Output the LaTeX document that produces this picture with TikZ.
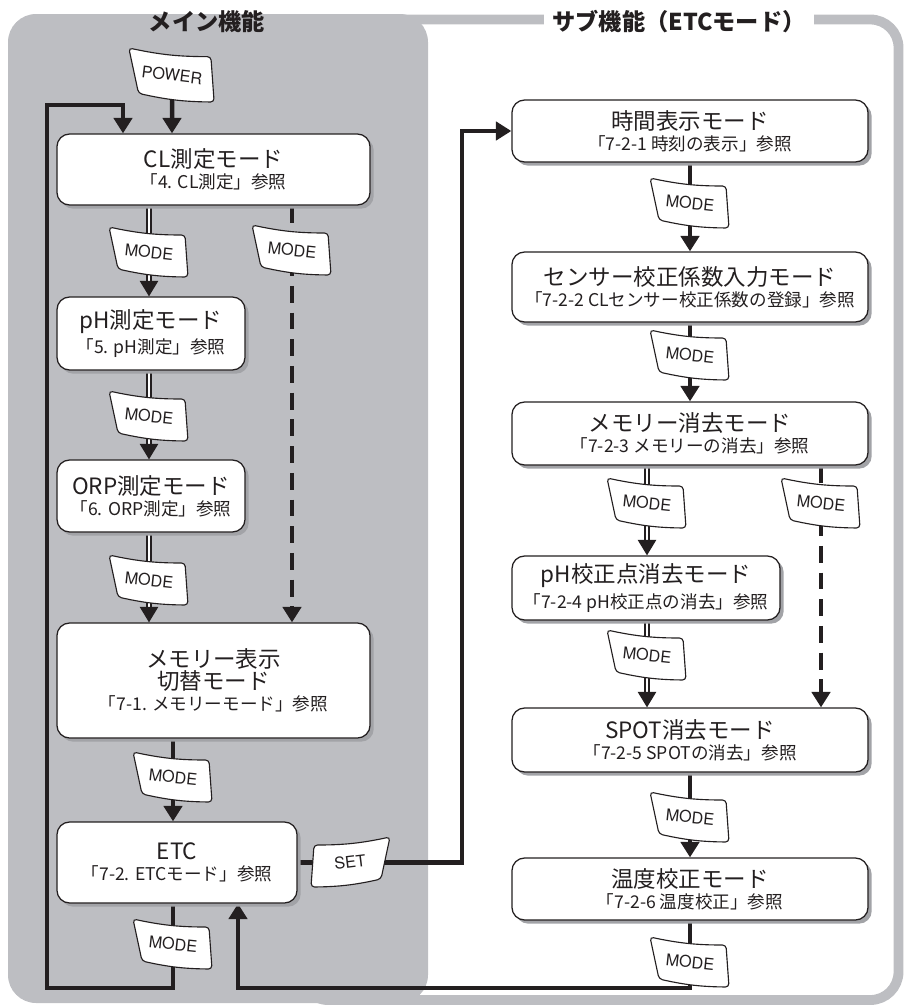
\documentclass[tikz,border=0pt]{standalone}
\usepackage{fontspec}
\setmainfont{Noto Sans CJK JP}
\newfontfamily\keyfont{TeX Gyre Heros}
\usepackage{xcolor}
\usepackage{tikz}
\usetikzlibrary{arrows.meta,shadows,calc}
\definecolor{PanelGray}{HTML}{BDBEC2}
\definecolor{FrameGray}{HTML}{BDBEC2}
\definecolor{ShadowGray}{HTML}{A2A3A7}
\definecolor{InkBlack}{HTML}{231F20}
\pgfdeclarelayer{panel}
\pgfdeclarelayer{wire}
\pgfsetlayers{panel,wire,main}
\newcommand\modename[1]{{\fontsize{16pt}{20pt}\selectfont #1}}
\newcommand\modenote[1]{{\fontsize{12.5pt}{15pt}\selectfont #1}}
% key outline + label: [outline opts] name, centre, angle, label
\newcommand\keycap[5][]{%
  \begin{scope}[shift={(#3)},#1]
    \filldraw[keyline] (-40,-25) to[bend right=6] (36,-17) -- (39,25)
      to[bend left=6] (-31,17) -- cycle;
  \end{scope}
  \node[keytext,rotate=#4] (#2) at (#3) {#5};}

\begin{document}
\begin{tikzpicture}[x=0.025cm, y=-0.025cm,
    every node/.style={text=InkBlack},
    modebox/.style={draw=InkBlack, line width=0.9pt, fill=white,
      rounded corners=9pt, align=center, inner sep=2pt,
      drop shadow={shadow xshift=2.6pt, shadow yshift=-2.6pt,
        fill=ShadowGray, opacity=1}},
    title/.style={font=\bfseries\fontsize{16.5pt}{18pt}\selectfont},
    keytext/.style={font=\keyfont\fontsize{11.5pt}{12pt}\selectfont, inner sep=1pt},
    keyline/.style={draw=InkBlack, fill=white, line width=0.8pt, rounded corners=2.5pt},
    conn/.style={draw=InkBlack, line width=3.2pt, -{Triangle[width=13pt,length=11pt]}},
    dashline/.style={conn, dash pattern=on 12pt off 7pt},
    dbl/.style={draw=InkBlack, line width=1.2pt, double=white, double distance=1.8pt,
      -{Triangle[width=13pt,length=11pt]}}]
  \useasboundingbox (0,0) rectangle (903,1006);

  % panels
  \begin{pgfonlayer}{panel}
    \draw[FrameGray, line width=7pt, rounded corners=20pt] (300,19.5) rectangle (898.5,1000);
    \fill[PanelGray, rounded corners=20pt] (8,14) rectangle (428,1003);
  \end{pgfonlayer}
  \node[title, fill=white, inner xsep=6pt, inner ysep=1pt] (subtitle) at (679,22) {サブ機能（ETCモード）};
  \node[title] (maintitle) at (207,22) {メイン機能};

  % main modes
  \node[modebox, minimum width=7.825cm, minimum height=1.775cm] (cl) at (213.5,169.5)
    {\modename{CL測定モード}\\[3pt]\modenote{「4. CL測定」参照}};
  \node[modebox, minimum width=4.7cm, minimum height=1.825cm] (ph) at (151,333.5)
    {\modename{pH測定モード}\\[3pt]\modenote{「5. pH測定」参照}};
  \node[modebox, minimum width=4.7cm, minimum height=1.8cm] (orp) at (151,496)
    {\modename{ORP測定モード}\\[3pt]\modenote{「6. ORP測定」参照}};
  \node[modebox, minimum width=7.825cm, minimum height=2.875cm] (memview) at (213.5,680.5)
    {\modename{メモリー表示}\\\modename{切替モード}\\[3pt]\modenote{「7-1. メモリーモード」参照}};
  \node[modebox, minimum width=6cm, minimum height=2.025cm] (etc) at (177,862.5)
    {\modename{ETC}\\[3pt]\modenote{「7-2. ETCモード」参照}};

  % sub modes
  \node[modebox, minimum width=8.9cm, minimum height=1.55cm] (clock) at (690,131)
    {\modename{時間表示モード}\\[3pt]\modenote{「7-2-1 時刻の表示」参照}};
  \node[modebox, minimum width=8.9cm, minimum height=1.75cm] (sensor) at (690,287)
    {\modename{センサー校正係数入力モード}\\[3pt]\modenote{「7-2-2 CLセンサー校正係数の登録」参照}};
  \node[modebox, minimum width=8.9cm, minimum height=1.575cm] (memclear) at (690,433.5)
    {\modename{メモリー消去モード}\\[3pt]\modenote{「7-2-3 メモリーの消去」参照}};
  \node[modebox, minimum width=6.7cm, minimum height=1.6cm] (phclear) at (646,588)
    {\modename{pH校正点消去モード}\\[3pt]\modenote{「7-2-4 pH校正点の消去」参照}};
  \node[modebox, minimum width=8.9cm, minimum height=1.6cm] (spot) at (690,740)
    {\modename{SPOT消去モード}\\[3pt]\modenote{「7-2-5 SPOTの消去」参照}};
  \node[modebox, minimum width=8.9cm, minimum height=1.55cm] (temp) at (690,889)
    {\modename{温度校正モード}\\[3pt]\modenote{「7-2-6 温度校正」参照}};

  % keys
  \keycap[scale=1.08]{kpw}{172,75}{-7}{POWER}
  \keycap{km1}{149,252}{-6}{MODE}
  \keycap{km2}{292,250}{-6}{MODE}
  \keycap{km3}{149,416}{-6}{MODE}
  \keycap{km4}{149,580}{-6}{MODE}
  \keycap{km5}{173,777}{-6}{MODE}
  \keycap{km6}{173,944}{-6}{MODE}
  \keycap[xscale=-1]{kset}{350,862}{7}{SET}
  \keycap{km7}{690,203}{-6}{MODE}
  \keycap{km8}{690,355}{-6}{MODE}
  \keycap{km9}{647,503}{-6}{MODE}
  \keycap{km10}{821,503}{-6}{MODE}
  \keycap{km11}{647,655}{-6}{MODE}
  \keycap{km12}{690,817}{-6}{MODE}
  \keycap{km13}{690,962}{-6}{MODE}

  \coordinate (loopbl) at (47,988);
  \coordinate (looptl) at (47,105);
  \coordinate (loopin) at (123,105);
  \coordinate (riser) at (462,500);
  \coordinate (retin) at (238,988);

  % connectors
  \begin{pgfonlayer}{wire}
    \draw[conn] (kpw) -- (kpw |- cl.north);
    \draw[conn] (km6 |- etc.south) -- (km6 |- loopbl) -- (loopbl) -- (looptl)
      -- (loopin) -- (loopin |- cl.north);
    \draw[dbl] (km1 |- cl.south) -- (km1 |- ph.north);
    \draw[dashline] (km2 |- cl.south) -- (km2 |- memview.north);
    \draw[dbl] (km3 |- ph.south) -- (km3 |- orp.north);
    \draw[dbl] (km4 |- orp.south) -- (km4 |- memview.north);
    \draw[conn] (km5 |- memview.south) -- (km5 |- etc.north);
    \draw[conn] (etc.east) -- (etc.east -| riser) |- (clock.west);
    \draw[conn] (clock) -- (sensor);
    \draw[conn] (sensor) -- (memclear);
    \draw[dbl] (km9 |- memclear.south) -- (km9 |- phclear.north);
    \draw[dashline] (km10 |- memclear.south) -- (km10 |- spot.north);
    \draw[dbl] (km11 |- phclear.south) -- (km11 |- spot.north);
    \draw[conn] (spot) -- (temp);
    \draw[conn] (temp.south) |- (retin) -- (retin |- etc.south);
  \end{pgfonlayer}
\end{tikzpicture}
\end{document}
